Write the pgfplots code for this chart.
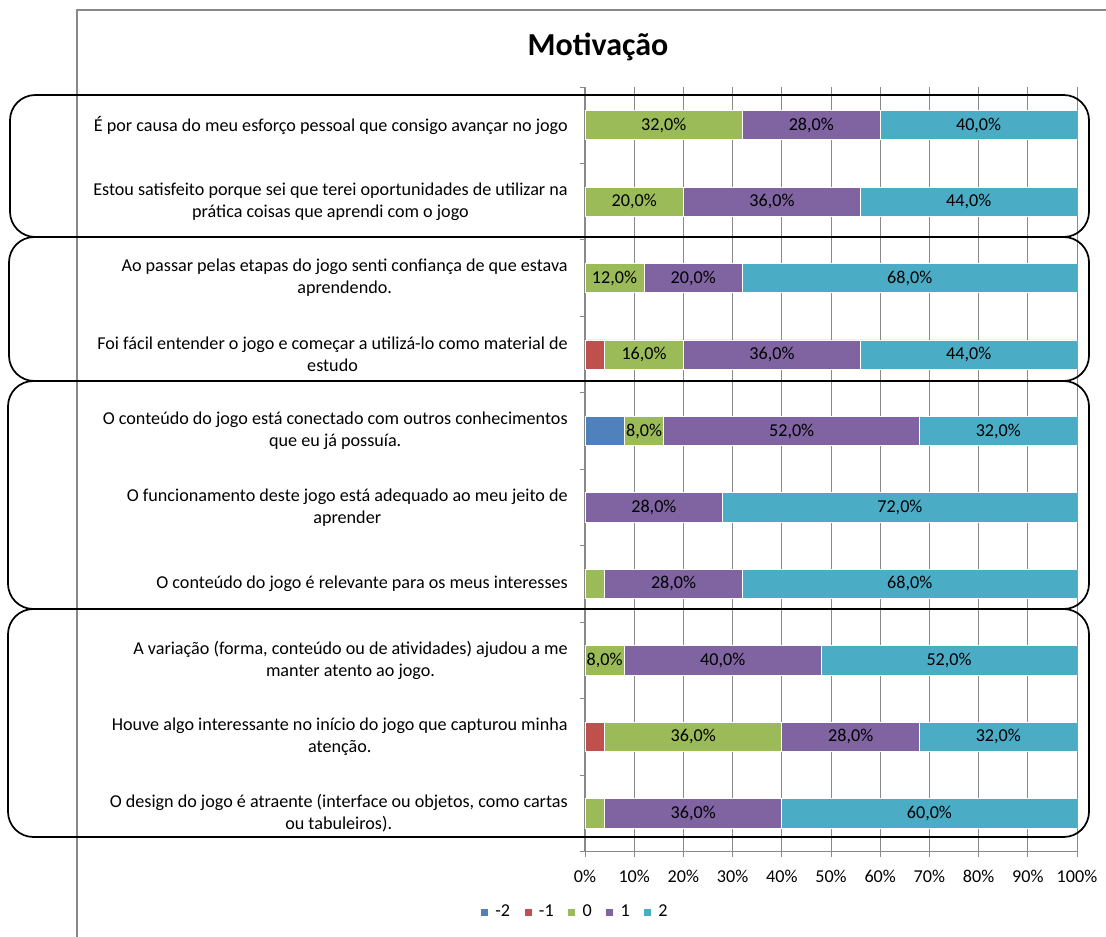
\documentclass[border=0pt]{standalone}
\usepackage{pgfplots}
\pgfplotsset{compat=1.18}
\usepackage{fontspec}
\setmainfont{Carlito}
\definecolor{cMtwo}{HTML}{4F81BD}
\definecolor{cMone}{HTML}{C0504D}
\definecolor{cZero}{HTML}{9BBB59}
\definecolor{cPone}{HTML}{8064A2}
\definecolor{cPtwo}{HTML}{4BACC6}
\definecolor{gridgray}{HTML}{898989}
\newcommand{\chartfont}{\fontsize{13.6pt}{16.5pt}\selectfont}
\begin{document}
\begin{tikzpicture}
\useasboundingbox (0,0) rectangle (829.5pt,702pt);
\begin{axis}[
  at={(438.75pt,63.375pt)}, anchor=south west,
  scale only axis, width=369pt, height=573.375pt,
  xbar stacked, bar width=22pt,
  xmin=0, xmax=100, ymin=0.5, ymax=10.5, y dir=reverse,
  axis x line=bottom, axis y line=left,
  axis line style={-, draw=gridgray, line width=0.8pt},
  xtick={0,10,...,100},
  xticklabels={0\%,10\%,20\%,30\%,40\%,50\%,60\%,70\%,80\%,90\%,100\%},
  xmajorgrids, grid style={draw=gridgray, line width=0.7pt},
  tick align=outside, major tick length=4pt,
  tick style={draw=gridgray, line width=0.7pt},
  ytick={0.5,1.5,...,10.5}, yticklabels={},
  extra y ticks={1,2,3,4,5,6,7,8,9,10},
  extra y tick labels={
    {É por causa do meu esforço pessoal que consigo avançar no jogo},
    {Estou satisfeito porque sei que terei oportunidades de utilizar na\\prática coisas que aprendi com o jogo},
    {Ao passar pelas etapas do jogo senti confiança de que estava\\aprendendo.},
    {Foi fácil entender o jogo e começar a utilizá-lo como material de\\estudo},
    {O conteúdo do jogo está conectado com outros conhecimentos\\que eu já possuía.},
    {O funcionamento deste jogo está adequado ao meu jeito de\\aprender},
    {O conteúdo do jogo é relevante para os meus interesses},
    {A variação (forma, conteúdo ou de atividades) ajudou a me\\manter atento ao jogo.},
    {Houve algo interessante no início do jogo que capturou minha\\atenção.},
    {O design do jogo é atraente (interface ou objetos, como cartas\\ou tabuleiros).}},
  extra y tick style={major tick length=0pt, tick style={draw=none}},
  yticklabel style={align=center, inner sep=0pt, xshift=-12.75pt, font=\chartfont},
  xticklabel style={inner sep=0pt, yshift=-10pt, font=\chartfont},
  point meta=explicit symbolic,
  every node near coord/.append style={anchor=center, font=\chartfont, text=black, inner sep=0pt},
  legend style={at={(-0.02,-0.079)}, anchor=center, legend columns=5, draw=none, fill=none,
    font=\chartfont, /tikz/every even column/.append style={column sep=8pt}},
  legend image code/.code={\fill[#1] (0pt,-3pt) rectangle (6pt,3pt); \path (9pt,0pt);},
  every axis plot/.append style={draw=white, line width=0.6pt},
]
\addplot[fill=cMtwo] coordinates {(0,1) (0,2) (0,3) (0,4) (8,5) (0,6) (0,7) (0,8) (0,9) (0,10)};
\addplot[fill=cMone] coordinates {(0,1) (0,2) (0,3) (4,4) (0,5) (0,6) (0,7) (0,8) (4,9) (0,10)};
\addplot[fill=cZero, nodes near coords] coordinates {
  (32,1) [{32,0\%}] (20,2) [{20,0\%}] (12,3) [{12,0\%}] (16,4) [{16,0\%}] (8,5) [{8,0\%}]
  (0,6) [{}] (4,7) [{}] (8,8) [{8,0\%}] (36,9) [{36,0\%}] (4,10) [{}]};
\addplot[fill=cPone, nodes near coords] coordinates {
  (28,1) [{28,0\%}] (36,2) [{36,0\%}] (20,3) [{20,0\%}] (36,4) [{36,0\%}] (52,5) [{52,0\%}]
  (28,6) [{28,0\%}] (28,7) [{28,0\%}] (40,8) [{40,0\%}] (28,9) [{28,0\%}] (36,10) [{36,0\%}]};
\addplot[fill=cPtwo, nodes near coords] coordinates {
  (40,1) [{40,0\%}] (44,2) [{44,0\%}] (68,3) [{68,0\%}] (44,4) [{44,0\%}] (32,5) [{32,0\%}]
  (72,6) [{72,0\%}] (68,7) [{68,0\%}] (52,8) [{52,0\%}] (32,9) [{32,0\%}] (60,10) [{60,0\%}]};
\legend{-2,-1,0,1,2}
\end{axis}
\begin{scope}[x=0.75pt,y=-0.75pt,yshift=702pt]
  \draw[gridgray, line width=1.1pt] (77,940) -- (77,10) -- (1110,10);
  \node[font=\bfseries\fontsize{24pt}{28pt}\selectfont] at (598,47) {Motivação};
  \draw[black, line width=1.3pt, rounded corners=19pt] (10,95) rectangle (1089,237);
  \draw[black, line width=1.3pt, rounded corners=19pt] (9,237) rectangle (1089,381);
  \draw[black, line width=1.3pt, rounded corners=19pt] (8,381) rectangle (1089,609);
  \draw[black, line width=1.3pt, rounded corners=19pt] (8,609) rectangle (1089,837);
\end{scope}
\end{tikzpicture}
\end{document}
